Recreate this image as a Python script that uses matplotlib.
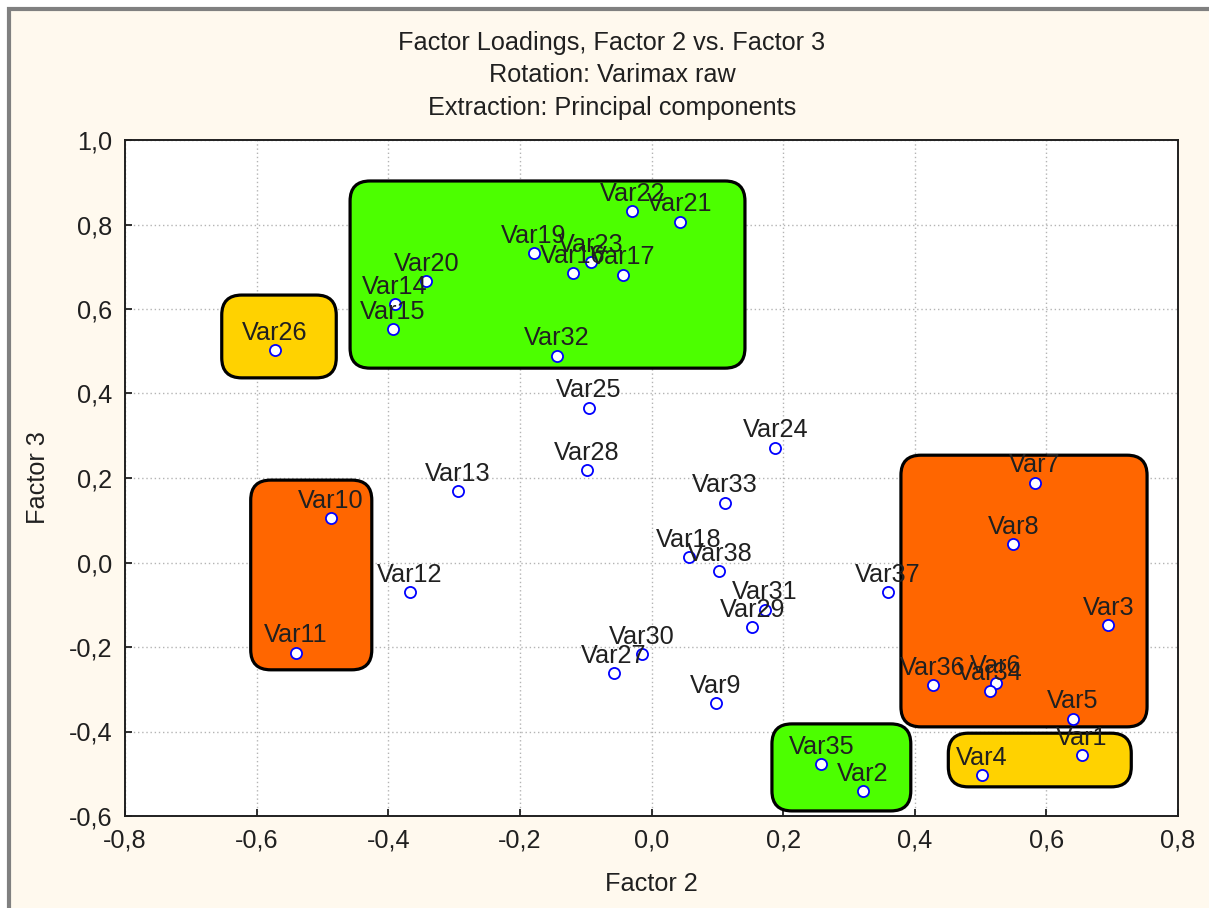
import matplotlib
matplotlib.use("Agg")
import matplotlib.pyplot as plt
from matplotlib.patches import FancyBboxPatch, Rectangle
from matplotlib.ticker import FuncFormatter, MultipleLocator

plt.rcParams['font.family'] = ['Liberation Sans', 'DejaVu Sans']

# ---- data ----
var_names = ["Var1", "Var2", "Var3", "Var4", "Var5", "Var6", "Var7", "Var8", "Var9", "Var10",
             "Var11", "Var12", "Var13", "Var14", "Var15", "Var16", "Var17", "Var18", "Var19", "Var20",
             "Var21", "Var22", "Var23", "Var24", "Var25", "Var26", "Var27", "Var28", "Var29", "Var30",
             "Var31", "Var32", "Var33", "Var34", "Var35", "Var36", "Var37", "Var38"]
factor2 = [0.654, 0.321, 0.694, 0.502, 0.640, 0.523, 0.582, 0.550, 0.098, -0.487,
           -0.540, -0.367, -0.294, -0.390, -0.393, -0.119, -0.044, 0.057, -0.179, -0.342,
           0.043, -0.029, -0.092, 0.188, -0.095, -0.572, -0.057, -0.098, 0.153, -0.015,
           0.172, -0.144, 0.111, 0.514, 0.258, 0.427, 0.359, 0.103]
factor3 = [-0.456, -0.541, -0.149, -0.503, -0.370, -0.286, 0.189, 0.043, -0.333, 0.105,
           -0.214, -0.070, 0.169, 0.612, 0.552, 0.685, 0.681, 0.013, 0.732, 0.666,
           0.807, 0.831, 0.711, 0.272, 0.366, 0.503, -0.262, 0.219, -0.153, -0.217,
           -0.112, 0.489, 0.142, -0.303, -0.477, -0.291, -0.070, -0.020]

# highlight groups: (x0, x1, y0, y1, colour) in loading units
group_boxes = [
    (-0.458, 0.142, 0.460, 0.903, "#4cff00"),
    (-0.653, -0.479, 0.437, 0.633, "#ffd200"),
    (-0.609, -0.425, -0.254, 0.195, "#ff6600"),
    (0.379, 0.753, -0.389, 0.254, "#ff6600"),
    (0.183, 0.394, -0.588, -0.382, "#4cff00"),
    (0.451, 0.729, -0.531, -0.404, "#ffd200"),
]

title_lines = ["Factor Loadings, Factor 2 vs. Factor 3",
               "Rotation: Varimax raw",
               "Extraction: Principal components"]
xlim = (-0.8, 0.8)
ylim = (-0.6, 1.0)

FS = 18.2
TXT = "#202020"

# ---- figure ----
W, H = 1209, 908
fig = plt.figure(figsize=(W / 100, H / 100), dpi=100, facecolor="white")

# cream frame with grey border (top/left visible)
frame = Rectangle((9 / W, -0.05), 1.1, (H - 9) / H + 0.05, transform=fig.transFigure,
                  facecolor="#fff9ee", edgecolor="#808080", linewidth=3.0, zorder=-10)
fig.patches.append(frame)

L, R, T, B = 125, 1178, 140, 816
ax = fig.add_axes([L / W, (H - B) / H, (R - L) / W, (B - T) / H])
ax.set_zorder(1)
ax.set_facecolor("white")
ax.set_xlim(*xlim)
ax.set_ylim(*ylim)

ax.xaxis.set_major_locator(MultipleLocator(0.2))
ax.yaxis.set_major_locator(MultipleLocator(0.2))
fmt = FuncFormatter(lambda v, p: f"{v:.1f}".replace(".", ",").replace("-0,0", "0,0"))
ax.xaxis.set_major_formatter(fmt)
ax.yaxis.set_major_formatter(fmt)
ax.tick_params(direction="in", length=5, width=1.3, color=TXT,
               labelsize=FS, labelcolor=TXT, pad=9)
for s in ax.spines.values():
    s.set_linewidth(1.4)
    s.set_color(TXT)
ax.grid(True, color="#b4b4b4", linestyle=(0, (1, 2)), linewidth=1.0, zorder=0)
ax.set_axisbelow(True)

# rounded group boxes
px_per_x = (R - L) / (xlim[1] - xlim[0])
px_per_y = (B - T) / (ylim[1] - ylim[0])
aspect = px_per_x / px_per_y
rad = 20 / px_per_x
for x0, x1, y0, y1, col in group_boxes:
    p = FancyBboxPatch((x0, y0), x1 - x0, y1 - y0,
                       boxstyle=f"round,pad=0,rounding_size={rad}",
                       mutation_aspect=aspect,
                       facecolor=col, edgecolor="black", linewidth=2.3, zorder=2)
    ax.add_patch(p)

ax.plot(factor2, factor3, linestyle="none", marker="o", markersize=8,
        markerfacecolor="white", markeredgecolor="#0000ff", markeredgewidth=1.3, zorder=4)
for name, x, y in zip(var_names, factor2, factor3):
    ax.annotate(name, (x, y), xytext=(0, 7.5), textcoords="offset points",
                ha="center", va="baseline", fontsize=FS, color=TXT, zorder=5)

ax.set_xlabel("Factor 2", fontsize=FS, color=TXT)
ax.set_ylabel("Factor 3", fontsize=FS, color=TXT)
ax.xaxis.set_label_coords(0.5, (B - 884) / (B - T))
ax.yaxis.set_label_coords((38 - L) / (R - L), 0.5)
ax.xaxis.label.set_va("center")
ax.yaxis.label.set_va("center")

for yc, line in zip([43, 75, 108], title_lines):
    fig.text(612 / W, 1 - yc / H, line, ha="center", va="center", fontsize=FS, color=TXT)

fig.savefig("out.png", dpi=100, facecolor=fig.get_facecolor())
